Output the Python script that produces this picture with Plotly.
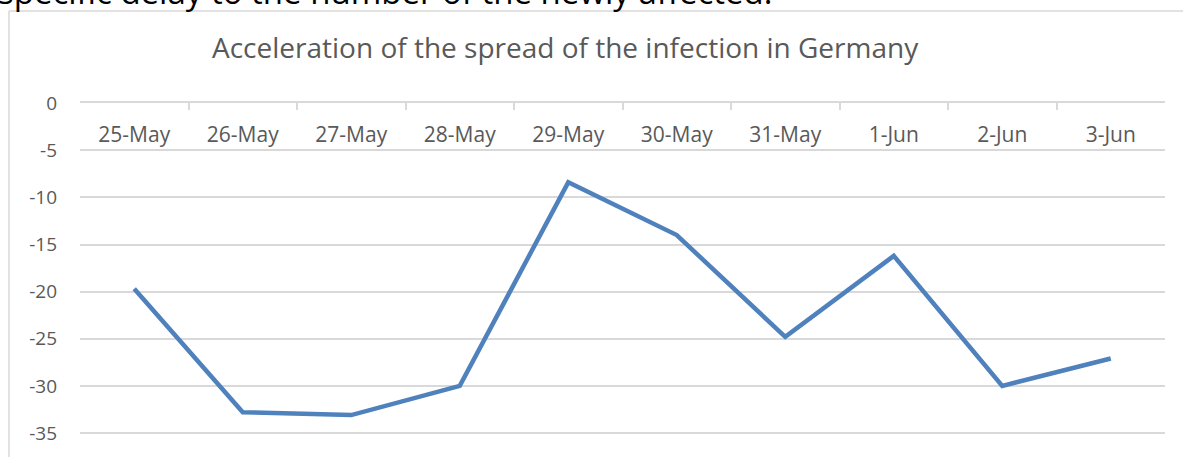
import plotly.graph_objects as go

categories = ["25-May", "26-May", "27-May", "28-May", "29-May",
              "30-May", "31-May", "1-Jun", "2-Jun", "3-Jun"]
values = [-19.7, -32.8, -33.1, -30.0, -8.4, -14.0, -24.8, -16.2, -30.0, -27.1]
y_ticks = [0, -5, -10, -15, -20, -25, -30, -35]

FONT = "Open Sans"
GRAY = "#595959"
GRID = "#d9d9d9"

W, H = 1183, 457
L, R, T, B = 80, 18, 103, 0
pw, ph = W - L - R, H - T - B

def px_x(p):
    return (p - L) / pw

def px_y(p):
    return (H - B - p) / ph

fig = go.Figure()
fig.add_trace(go.Scatter(
    x=categories, y=values, mode="lines",
    line=dict(color="#4f81bd", width=4.5),
    hoverinfo="skip", showlegend=False,
))
# invisible trace carrying the category labels axis (below the zero line)
fig.add_trace(go.Scatter(
    x=categories, y=values, mode="lines", xaxis="x2",
    line=dict(color="rgba(0,0,0,0)", width=0),
    hoverinfo="skip", showlegend=False,
))

fig.update_layout(
    width=W, height=H,
    margin=dict(l=L, r=R, t=T, b=B, autoexpand=False),
    paper_bgcolor="white", plot_bgcolor="white",
    font=dict(family=FONT, color=GRAY),
    showlegend=False,
    xaxis=dict(
        type="category", side="top",
        range=[-0.5, len(categories) - 0.5],
        automargin=False,
        showline=True, linecolor=GRID, linewidth=1.5,
        ticks="inside", ticklen=7, tickcolor=GRID, tickwidth=1.5,
        tickson="boundaries",
        showticklabels=False,
        showgrid=False, zeroline=False,
    ),
    xaxis2=dict(
        type="category", overlaying="x", matches="x",
        anchor="free", side="bottom", position=px_y(120),
        automargin=False,
        showline=False, ticks="", showgrid=False, zeroline=False,
        ticklabelstandoff=0,
        tickfont=dict(family=FONT, size=21, color=GRAY),
    ),
    yaxis=dict(
        range=[-37.55, 0.02],
        automargin=False,
        tickvals=y_ticks,
        ticktext=[str(v) for v in y_ticks],
        showgrid=True, gridcolor=GRID, gridwidth=1.5,
        zeroline=False, showline=False,
        ticks="", ticklabelstandoff=22,
        tickfont=dict(family=FONT, size=19, color=GRAY),
    ),
    shapes=[
        dict(type="line", xref="paper", yref="paper",
             x0=px_x(9), x1=px_x(9), y0=px_y(11), y1=px_y(H),
             line=dict(color=GRID, width=1.5)),
        dict(type="line", xref="paper", yref="paper",
             x0=px_x(9), x1=px_x(W), y0=px_y(11), y1=px_y(11),
             line=dict(color=GRID, width=1.5)),
    ],
    annotations=[
        dict(text="Acceleration of the spread of the infection in Germany",
             xref="paper", yref="paper", x=px_x(565), y=px_y(47),
             xanchor="center", yanchor="middle", showarrow=False,
             font=dict(family=FONT, size=28, color=GRAY)),
        dict(text="specific delay to the number of the newly affected.",
             xref="paper", yref="paper", x=px_x(-4), y=px_y(16),
             xanchor="left", yanchor="bottom", showarrow=False,
             font=dict(family=FONT, size=33, color="#000000")),
    ],
)

fig.write_html(
    "out.html",
    config={"displayModeBar": False},
    post_script="document.body.style.margin='0';"
                "document.body.style.overflow='hidden';",
)
